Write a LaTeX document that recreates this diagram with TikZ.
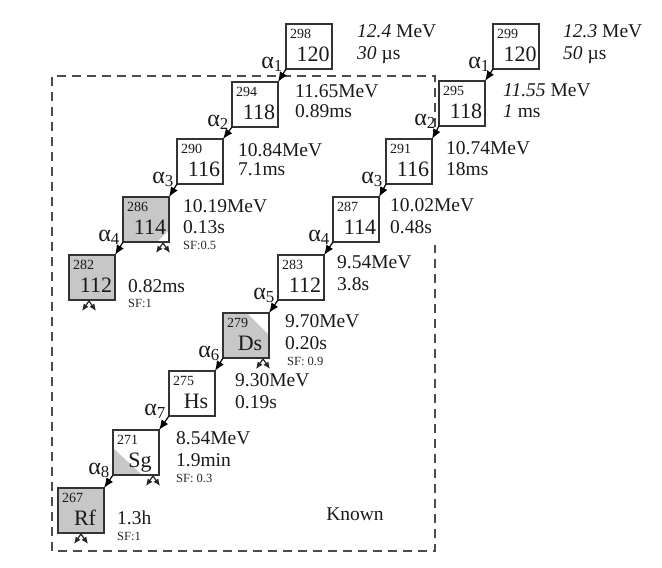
\documentclass[tikz,border=0pt]{standalone}
\usepackage{fontspec}
\setmainfont{Liberation Serif}
\usetikzlibrary{arrows.meta}
\newcommand\Nuc[5]{%
  \node[nucbox] (#1) at (#2,#3) {};
  \node[mass] (#1m) at (#2+4,#3+14) {#4};
  \node[elem] (#1e) at (#2+27,#3+37) {#5};
}
\begin{document}
\begin{tikzpicture}[x=1pt,y=-1pt,
  nucbox/.style={draw=black!80, line width=1.4pt, minimum width=46pt, minimum height=45pt, inner sep=0pt, outer sep=0pt, anchor=north west},
  mass/.style={font=\fontsize{14}{14}\selectfont, text=black!90, anchor=base west, inner sep=0pt},
  elem/.style={font=\fontsize{22}{22}\selectfont, text=black!90, anchor=base, inner sep=0pt},
  lab/.style={font=\fontsize{19.5}{19.5}\selectfont, text=black!90, anchor=base west, inner sep=0pt},
  sf/.style={font=\fontsize{12.5}{12.5}\selectfont, text=black!85, anchor=base west, inner sep=0pt},
  alab/.style={font=\fontsize{24}{24}\selectfont, text=black!90, anchor=base east, inner sep=0pt},
  decay/.style={-{Latex[length=10pt,width=8pt]}, line width=1.2pt, black},
  fis/.style={-{Latex[length=7pt,width=6pt]}, line width=1.2pt, black!85},
  sfgrey/.style={fill=black!22},
  knownbox/.style={draw=black!70, line width=1.3pt, dash pattern=on 9pt off 6pt},
]
\useasboundingbox (0,0) rectangle (662,568);

% partial / full SF shading
\fill[sfgrey] (123,197) -- (169,197) -- (169,230) -- (157,242) -- (123,242) -- cycle;
\fill[sfgrey] (69,255) rectangle (115,300);
\fill[sfgrey] (223,313) -- (247,313) -- (269,335) -- (269,358) -- (223,358) -- cycle;
\fill[sfgrey] (113,448) -- (113,475) -- (142,475) -- cycle;
\fill[sfgrey] (58,488) rectangle (104,533);

% dashed "Known" frame
\draw[knownbox] (435,127) -- (435,76) -- (52,76) -- (52,551) -- (435,551) -- (435,245);
\node[lab, anchor=center] (known) at (355,514) {Known};

% left chain
\Nuc{l0}{286}{24}{298}{120}
\Nuc{l1}{232}{82}{294}{118}
\Nuc{l2}{177}{139}{290}{116}
\Nuc{l3}{123}{197}{286}{114}
\Nuc{l4}{69}{255}{282}{112}

% right chain
\Nuc{r0}{493}{24}{299}{120}
\Nuc{r1}{439}{81}{295}{118}
\Nuc{r2}{386}{139}{291}{116}
\Nuc{r3}{333}{197}{287}{114}
\Nuc{r4}{278}{255}{283}{112}
\Nuc{r5}{223}{313}{279}{Ds}
\Nuc{r6}{169}{371}{275}{Hs}
\Nuc{r7}{113}{430}{271}{Sg}
\Nuc{r8}{58}{488}{267}{Rf}

% decay arrows
\draw[decay] (l0.south west) -- (l1.north east);
\draw[decay] (l1.south west) -- (l2.north east);
\draw[decay] (l2.south west) -- (l3.north east);
\draw[decay] (l3.south west) -- (l4.north east);
\draw[decay] (r0.south west) -- (r1.north east);
\draw[decay] (r1.south west) -- (r2.north east);
\draw[decay] (r2.south west) -- (r3.north east);
\draw[decay] (r3.south west) -- (r4.north east);
\draw[decay] (r4.south west) -- (r5.north east);
\draw[decay] (r5.south west) -- (r6.north east);
\draw[decay] (r6.south west) -- (r7.north east);
\draw[decay] (r7.south west) -- (r8.north east);

% alpha labels
\node[alab, xshift=-3pt, yshift=1pt] (al1) at (l0.south west) {α\textsubscript{1}};
\node[alab, xshift=-3pt, yshift=1pt] (al2) at (l1.south west) {α\textsubscript{2}};
\node[alab, xshift=-3pt, yshift=1pt] (al3) at (l2.south west) {α\textsubscript{3}};
\node[alab, xshift=-3pt, yshift=1pt] (al4) at (l3.south west) {α\textsubscript{4}};
\node[alab, xshift=-3pt, yshift=1pt] (ar1) at (r0.south west) {α\textsubscript{1}};
\node[alab, xshift=-3pt, yshift=1pt] (ar2) at (r1.south west) {α\textsubscript{2}};
\node[alab, xshift=-3pt, yshift=1pt] (ar3) at (r2.south west) {α\textsubscript{3}};
\node[alab, xshift=-3pt, yshift=1pt] (ar4) at (r3.south west) {α\textsubscript{4}};
\node[alab, xshift=-3pt, yshift=1pt] (ar5) at (r4.south west) {α\textsubscript{5}};
\node[alab, xshift=-3pt, yshift=1pt] (ar6) at (r5.south west) {α\textsubscript{6}};
\node[alab, xshift=-3pt, yshift=1pt] (ar7) at (r6.south west) {α\textsubscript{7}};
\node[alab, xshift=-3pt, yshift=1pt] (ar8) at (r7.south west) {α\textsubscript{8}};

% fission forks
\coordinate (f3) at (163,243);
\coordinate (f4) at (89,301);
\coordinate (f5) at (263,359);
\coordinate (f7) at (153,476);
\coordinate (f8) at (81,534);
\foreach \f in {f3,f4,f5,f7,f8}{
  \draw[fis] (\f) -- ++(-7,10);
  \draw[fis] (\f) -- ++(7,10);
}

% left chain labels
\node[lab] (tl0a) at (357,37) {\textit{12.4} MeV};
\node[lab] (tl0b) at (357,59) {\textit{30} µs};
\node[lab] (tl1a) at (295,97) {11.65MeV};
\node[lab] (tl1b) at (295,117) {0.89ms};
\node[lab] (tl2a) at (238,156) {10.84MeV};
\node[lab] (tl2b) at (238,175) {7.1ms};
\node[lab] (tl3a) at (183,212) {10.19MeV};
\node[lab] (tl3b) at (183,233) {0.13s};
\node[sf]  (tl3c) at (183,249) {SF:0.5};
\node[lab] (tl4b) at (128,292) {0.82ms};
\node[sf]  (tl4c) at (128,307) {SF:1};

% right chain labels
\node[lab] (tr0a) at (563,37) {\textit{12.3} MeV};
\node[lab] (tr0b) at (563,59) {\textit{50} µs};
\node[lab] (tr1a) at (503,96) {\textit{11.55} MeV};
\node[lab] (tr1b) at (503,117) {\textit{1} ms};
\node[lab] (tr2a) at (446,154) {10.74MeV};
\node[lab] (tr2b) at (446,175) {18ms};
\node[lab] (tr3a) at (390,211) {10.02MeV};
\node[lab] (tr3b) at (390,233) {0.48s};
\node[lab] (tr4a) at (337,268) {9.54MeV};
\node[lab] (tr4b) at (337,290) {3.8s};
\node[lab] (tr5a) at (285,327) {9.70MeV};
\node[lab] (tr5b) at (285,349) {0.20s};
\node[sf]  (tr5c) at (287,365) {SF: 0.9};
\node[lab] (tr6a) at (235,386) {9.30MeV};
\node[lab] (tr6b) at (235,408) {0.19s};
\node[lab] (tr7a) at (176,444) {8.54MeV};
\node[lab] (tr7b) at (176,466) {1.9min};
\node[sf]  (tr7c) at (176,482) {SF: 0.3};
\node[lab] (tr8b) at (117,524) {1.3h};
\node[sf]  (tr8c) at (117,540) {SF:1};
\end{tikzpicture}
\end{document}
